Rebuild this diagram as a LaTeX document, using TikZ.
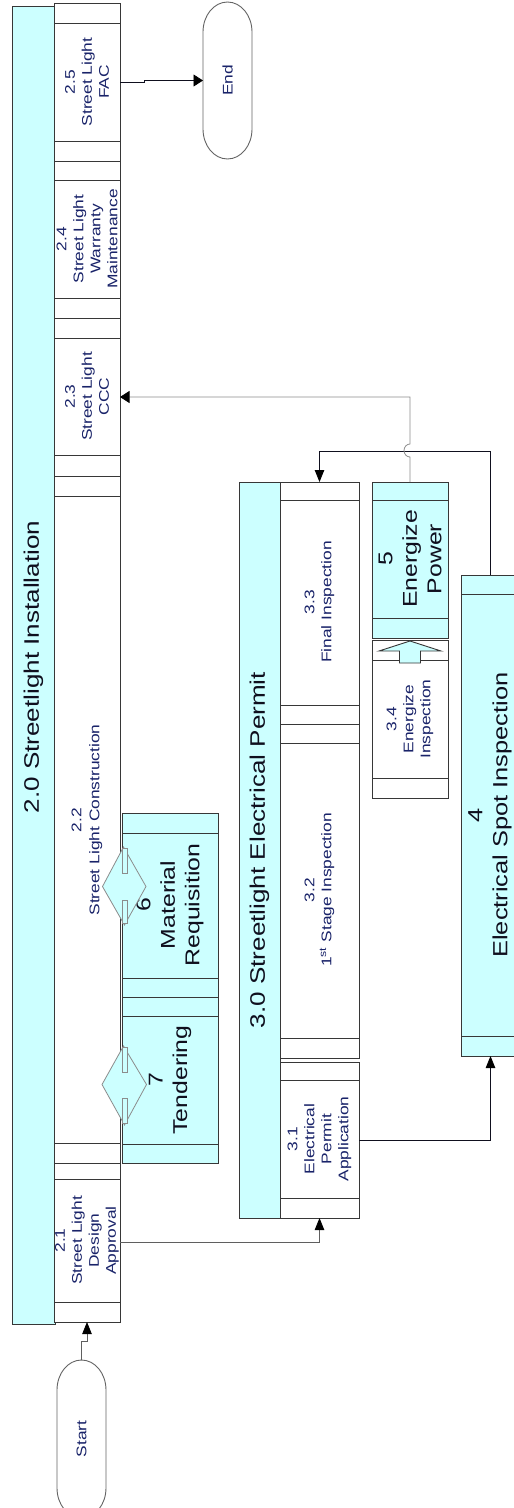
\documentclass[tikz,border=0pt]{standalone}
\usepackage{fontspec}
\setmainfont{Liberation Sans}
\usetikzlibrary{arrows.meta,calc}
\definecolor{cyanfill}{RGB}{204,255,255}
\definecolor{bordc}{RGB}{55,55,55}
\definecolor{navyc}{RGB}{25,35,105}
\definecolor{darkc}{RGB}{15,15,30}
\definecolor{midgray}{RGB}{95,95,95}
\definecolor{litegray}{RGB}{140,140,140}
\definecolor{termc}{RGB}{100,100,100}

\newcommand\procbox[8]{%
  \node[procbox, fill=#8, minimum width={(#4-#2)*1pt}, minimum height={(#5-#3)*1pt}] (#1) at (#2,#3) {};
  \draw[boxline] ([yshift=-#6pt]#1.north west) -- ([yshift=-#6pt]#1.north east);
  \draw[boxline] ([yshift=#7pt]#1.south west) -- ([yshift=#7pt]#1.south east);
}

\begin{document}
\begin{tikzpicture}[x=1pt,y=-1pt,
  boxline/.style={draw=bordc, line width=0.9pt},
  procbox/.style={boxline, inner sep=0pt, outer sep=0pt, anchor=north west},
  lbl/.style={rotate=90, xscale=1.24, align=center, text=navyc, inner sep=0pt, font=\fontsize{14}{17}\selectfont},
  biglbl/.style={rotate=90, xscale=1.24, align=center, text=darkc, inner sep=0pt, font=\fontsize{20}{24.5}\selectfont},
  ttl/.style={rotate=90, xscale=1.24, text=darkc, inner sep=0pt, font=\fontsize{21}{25}\selectfont},
  termline/.style={draw=termc, line width=0.9pt, fill=white},
  termnode/.style={inner sep=0pt, outer sep=0pt, minimum width=49pt},
  dmd/.style={draw=litegray, line width=0.8pt, fill=cyanfill},
  vconn/.style={draw=darkc, line width=0.8pt, -{Triangle[length=12pt,width=9.5pt,color=black]}},
  hconn/.style={draw=darkc, line width=0.8pt, -{Triangle[length=9.5pt,width=12pt,color=black]}},
]
\useasboundingbox (0,0) rectangle (514,1508);
\clip (0,0) rectangle (514,1508);

% ---- 2.0 lane ----
\node[procbox, fill=cyanfill, minimum width=43pt, minimum height=1318pt] (t20) at (12,6) {};
\node[ttl] (ttl20) at (33.5,667) {2.0 Streetlight Installation};

\procbox{b25}{54}{3}{120}{161}{20}{20}{white}
\procbox{b24}{54}{161}{120}{318}{19}{20}{white}
\procbox{b23}{54}{318}{120}{476}{20}{21}{white}
\procbox{b22}{54}{476}{120}{1163}{20}{20}{white}
\procbox{b21}{54}{1163}{120}{1322}{16}{20}{white}

\node[lbl] (lbl25) at (87,82) {2.5\\Street Light\\FAC};
\node[lbl] (lbl24) at (87,239) {2.4\\Street Light\\Warranty\\Maintenance};
\node[lbl] (lbl23) at (87,396.5) {2.3\\Street Light\\CCC};
\node[lbl] (lbl22) at (87,820) {2.2\\[1pt]Street Light Construction};
\node[lbl] (lbl21) at (87,1240.5) {2.1\\Street Light\\Design\\Approval};

% ---- 6 and 7 ----
\procbox{b6}{122}{813}{218}{997}{20}{19}{cyanfill}
\procbox{b7}{122}{997}{218}{1163}{19}{19}{cyanfill}
\node[biglbl] (lbl6) at (170,905) {6\\Material\\Requisition};
\node[biglbl] (lbl7) at (170,1080) {7\\Tendering};

\draw[dmd] (123.5,847) -- (146,886.5) -- (124.5,925) -- (102.5,886.5) -- cycle;
\draw[dmd] (122.5,848) rectangle (127,873);
\draw[dmd] (122.5,900) rectangle (127,923);
\draw[dmd] (123.5,1046) -- (146.5,1084.5) -- (124.5,1125) -- (102,1084.5) -- cycle;
\draw[dmd] (122.5,1047) rectangle (127,1072);
\draw[dmd] (122.5,1098) rectangle (127,1123);

% ---- 3.0 lane ----
\node[procbox, fill=cyanfill, minimum width=41pt, minimum height=736pt] (t30) at (239,482) {};
\node[ttl] (ttl30) at (259.5,850) {3.0 Streetlight Electrical Permit};

\procbox{b33}{280}{482}{359}{724}{18}{19}{white}
\procbox{b32}{280}{724}{359}{1058}{19}{20}{white}
\procbox{b31}{280}{1062}{359}{1218}{18}{20}{white}
\node[lbl] (lbl33) at (319.5,602) {3.3\\Final Inspection};
\node[lbl] (lbl32) at (319.5,890) {3.2\\1\textsuperscript{st} Stage Inspection};
\node[lbl] (lbl31) at (319.5,1139) {3.1\\Electrical\\Permit\\Application};

% ---- 5, 3.4, 4 ----
\procbox{b5}{372}{482}{448}{638}{18}{20}{cyanfill}
\procbox{b34}{372}{640}{448}{798}{20}{20}{white}
\procbox{b4}{461}{575}{520}{1056}{19}{20}{cyanfill}
\node[biglbl] (lbl5) at (410,559) {5\\Energize\\Power};
\node[lbl] (lbl34) at (410,719) {3.4\\Energize\\Inspection};
\node[biglbl, font=\fontsize{20.5}{25}\selectfont] (lbl4) at (490,815) {4\\Electrical Spot Inspection};

\draw[boxline, fill=cyanfill] (410,641) -- (441,651) -- (420.5,651) -- (420.5,663)
  -- (399.5,663) -- (399.5,651) -- (379,651) -- cycle;

% ---- terminals ----
\node[termnode, minimum height=157pt] (end) at (227.5,80.5) {};
\draw[termline] (end.west) ++(0,-48.5) arc[start angle=180,end angle=0,x radius=24.5pt,y radius=30pt]
  -- ++(0,97) arc[start angle=0,end angle=-180,x radius=24.5pt,y radius=30pt] -- cycle;
\node[lbl] (endtxt) at (end.center) {End};

\node[termnode, minimum height=158pt] (start) at (81.5,1439) {};
\draw[termline] (start.west) ++(0,-49) arc[start angle=180,end angle=0,x radius=24.5pt,y radius=30pt]
  -- ++(0,98) arc[start angle=0,end angle=-180,x radius=24.5pt,y radius=30pt] -- cycle;
\node[lbl] (starttxt) at (start.center) {Start};

% ---- connectors ----
\draw[vconn, draw=midgray] (start.north) -- ++(0,-19) -| (b21.south);
\draw[vconn, draw=midgray] (b21.east) -| (b31.south);
\draw[vconn] (b31.east) -| (b4.south);
\draw[vconn] (b4.north) -- ++(0,-124) -| (b33.north);
\draw[hconn, draw=litegray] (b5.north) -- ++(0,-25)
  arc[start angle=270,end angle=90,x radius=6pt,y radius=6.5pt]
  -- (b5.north |- b23.east) -- (b23.east);
\draw[hconn] (b25.east) -- ++(24,0) |- (end.west);
\end{tikzpicture}
\end{document}
